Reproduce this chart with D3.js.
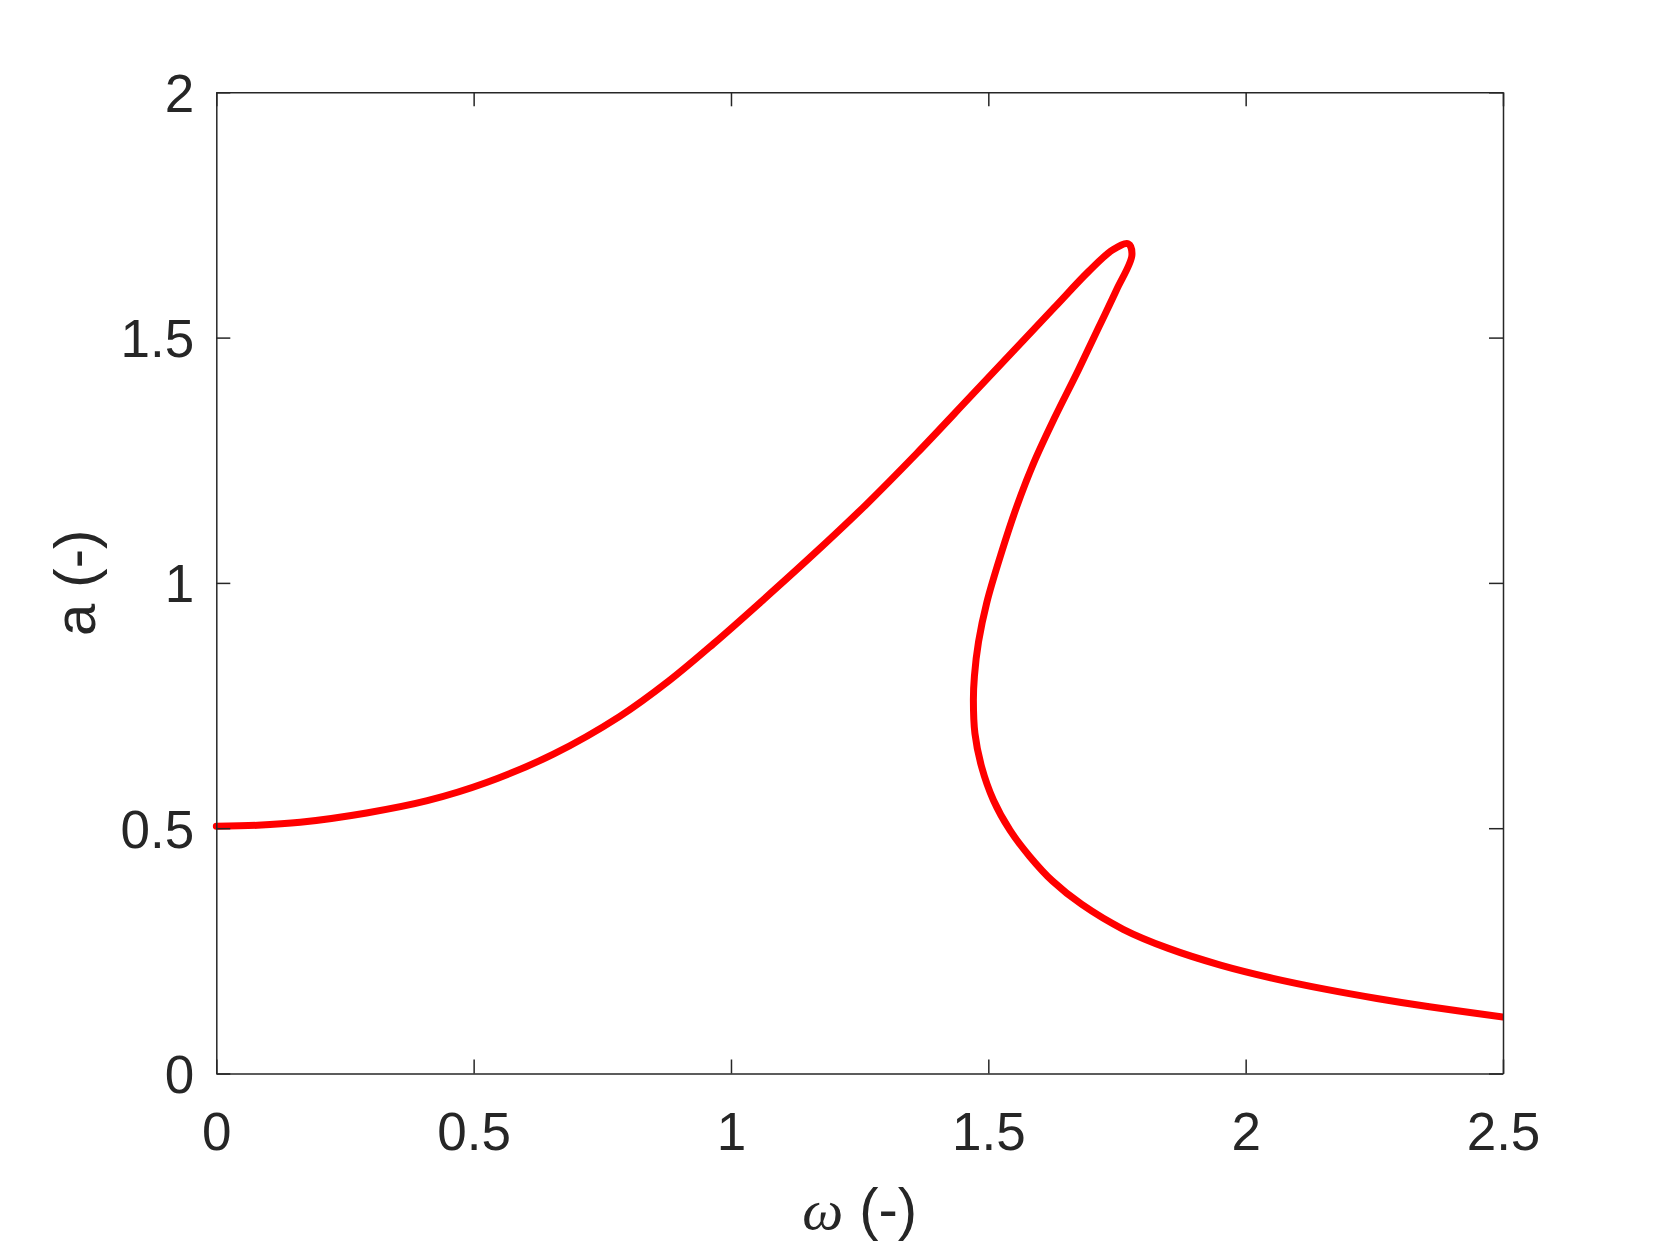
<!DOCTYPE html>
<html>
<head>
    <title>Frequency response</title>
    <script src="https://d3js.org/d3.v7.min.js"></script>
    <style>
        body {
            margin: 0;
            background: #fff;
        }
        .axis text {
            font-family: "Liberation Sans", Arial, Helvetica, sans-serif;
            font-size: 53px;
            fill: #262626;
        }
        .axis path,
        .axis line {
            stroke: #262626;
            stroke-width: 1.5px;
        }
        .label {
            font-family: "Liberation Sans", Arial, Helvetica, sans-serif;
            font-size: 58px;
            fill: #262626;
        }
        .curve {
            fill: none;
            stroke: #ff0000;
            stroke-width: 7px;
            stroke-linejoin: round;
            stroke-linecap: round;
        }
    </style>
</head>
<body>
<div id="chart"></div>
<script>
    // response curve, in path order (upper branch -> fold -> lower branch)
    const omega = [0, 0.08, 0.163, 0.292, 0.41, 0.525, 0.655, 0.784, 0.879, 0.966, 1.060,
        1.160, 1.261, 1.361, 1.461, 1.548, 1.629, 1.695, 1.742, 1.772, 1.779, 1.749, 1.715, 1.675,
        1.629, 1.588, 1.555, 1.525, 1.497, 1.481, 1.473, 1.471, 1.474, 1.487, 1.510, 1.542, 1.580,
        1.625, 1.681, 1.762, 1.850, 1.951, 2.053, 2.154, 2.255, 2.357, 2.5];
    const amp = [0.504, 0.506, 0.512, 0.531, 0.556, 0.593, 0.651, 0.728, 0.800, 0.876, 0.963,
        1.058, 1.158, 1.264, 1.375, 1.472, 1.562, 1.635, 1.679, 1.691, 1.668, 1.597, 1.522, 1.434,
        1.337, 1.244, 1.155, 1.060, 0.960, 0.880, 0.810, 0.761, 0.693, 0.625, 0.557, 0.496, 0.443,
        0.392, 0.345, 0.294, 0.255, 0.221, 0.194, 0.172, 0.153, 0.136, 0.115];

    const xTicks = [0, 0.5, 1, 1.5, 2, 2.5];
    const yTicks = [0, 0.5, 1, 1.5, 2];
    const xTickLabels = ["0", "0.5", "1", "1.5", "2", "2.5"];
    const yTickLabels = ["0", "0.5", "1", "1.5", "2"];

    const width = 1661, height = 1246;
    const margin = {left: 216.3, right: 1661 - 1503, top: 92.3, bottom: 1246 - 1073.5};
    const w = width - margin.left - margin.right;
    const h = height - margin.top - margin.bottom;

    const svg = d3.select("#chart")
        .append("svg")
        .attr("width", width)
        .attr("height", height);

    const g = svg.append("g")
        .attr("transform", `translate(${margin.left},${margin.top})`);

    const x = d3.scaleLinear().domain([0, 2.5]).range([0, w]);
    const y = d3.scaleLinear().domain([0, 2]).range([h, 0]);

    g.append("clipPath")
        .attr("id", "clip")
        .append("rect")
        .attr("x", -4).attr("y", -4)
        .attr("width", w + 4).attr("height", h + 8);

    const points = omega.map((d, i) => [d, amp[i]]);

    const line = d3.line()
        .x(d => x(d[0]))
        .y(d => y(d[1]))
        .curve(d3.curveCatmullRom.alpha(0.5));

    g.append("path")
        .datum(points)
        .attr("class", "curve")
        .attr("clip-path", "url(#clip)")
        .attr("d", line);

    // axes, ticks inward on all four sides
    g.append("g")
        .attr("class", "axis")
        .attr("transform", `translate(0,${h})`)
        .call(d3.axisBottom(x).tickValues(xTicks).tickSizeInner(-14).tickSizeOuter(0)
            .tickPadding(39).tickFormat((d, i) => xTickLabels[i]));

    g.append("g")
        .attr("class", "axis")
        .call(d3.axisTop(x).tickValues(xTicks).tickSizeInner(-14).tickSizeOuter(0).tickFormat(""));

    const yAxis = g.append("g")
        .attr("class", "axis")
        .call(d3.axisLeft(y).tickValues(yTicks).tickSizeInner(-14).tickSizeOuter(0)
            .tickPadding(22).tickFormat((d, i) => yTickLabels[i]));
    yAxis.selectAll("text").attr("dy", "0.36em");

    g.append("g")
        .attr("class", "axis")
        .attr("transform", `translate(${w},0)`)
        .call(d3.axisRight(y).tickValues(yTicks).tickSizeInner(-14).tickSizeOuter(0).tickFormat(""));

    // axis labels
    const xl = svg.append("text")
        .attr("class", "label")
        .attr("x", margin.left + w / 2)
        .attr("y", 1229)
        .attr("text-anchor", "middle");
    xl.append("tspan")
        .style("font-family", "'Liberation Serif', 'DejaVu Serif', serif")
        .style("font-style", "italic")
        .text("ω");
    xl.append("tspan").text(" (-)");

    svg.append("text")
        .attr("class", "label")
        .attr("transform", `translate(95,${margin.top + h / 2}) rotate(-90)`)
        .attr("text-anchor", "middle")
        .text("a (-)");
</script>
</body>
</html>
